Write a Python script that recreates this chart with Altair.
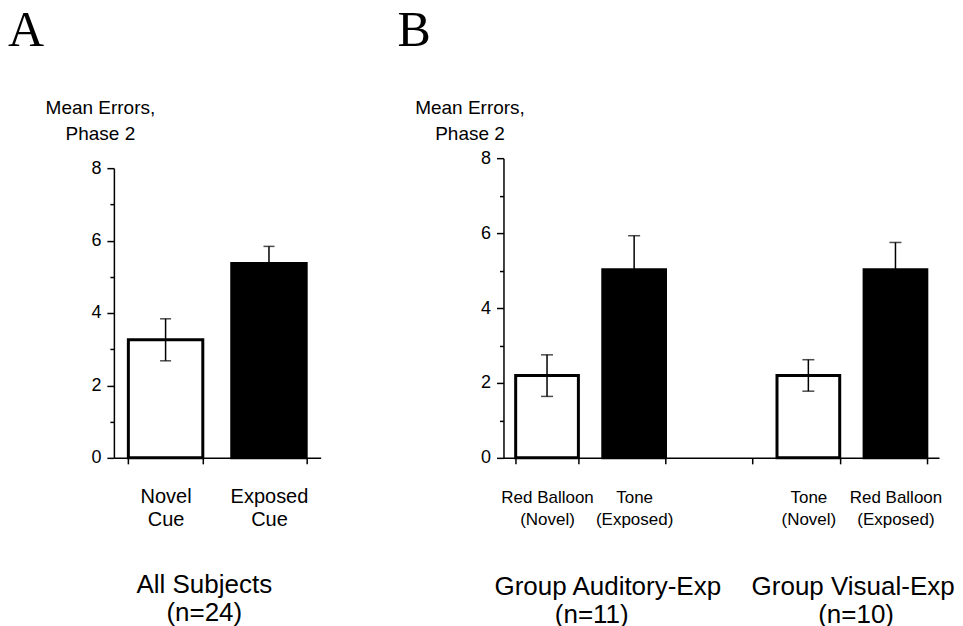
import altair as alt
import pandas as pd

FONT = "Liberation Sans"
SERIF = "Liberation Serif"

# ---------------- data ----------------
a_categories = ["Novel\nCue", "Exposed\nCue"]
a_kind = ["Novel", "Exposed"]
a_mean = [3.26, 5.37]
a_err_lo = [2.68, 4.90]
a_err_hi = [3.84, 5.84]

b_categories = ["Red Balloon\n(Novel)", "Tone\n(Exposed)", " ", "Tone\n(Novel)", "Red Balloon\n(Exposed)"]
b_bar_categories = ["Red Balloon\n(Novel)", "Tone\n(Exposed)", "Tone\n(Novel)", "Red Balloon\n(Exposed)"]
b_kind = ["Novel", "Exposed", "Novel", "Exposed"]
b_mean = [2.20, 5.02, 2.20, 5.02]
b_err_lo = [1.64, 4.11, 1.78, 4.29]
b_err_hi = [2.75, 5.93, 2.62, 5.75]

y_ticks = [0, 1, 2, 3, 4, 5, 6, 7, 8]
y_title = ["Mean Errors,", "Phase 2"]
a_group_title = ["All Subjects", "(n=24)"]
b_group_lines = ["Group Auditory-Exp", "(n=11)", "Group Visual-Exp", "(n=10)"]
b_group_anchor = ["Tone\n(Exposed)", "Tone\n(Exposed)", "Red Balloon\n(Exposed)", "Red Balloon\n(Exposed)"]


def y_axis(title_x):
    return alt.Axis(
        title=y_title, titleAngle=0, titleAlign="center", titleBaseline="top",
        titleX=title_x, titleY=-60, titleFont=FONT, titleFontSize=19,
        titleFontWeight="normal", titleLineHeight=26, titleColor="black",
        values=y_ticks, labelExpr="datum.value % 2 == 0 ? datum.label : ''",
        labelFont=FONT, labelFontSize=18, labelPadding=6, labelColor="black",
        tickSize={"condition": {"test": "datum.value % 2 == 0", "value": 7}, "value": 4},
        grid=False,
    )


def panel(cats, domain, kinds, mean, lo, hi, yrange, x_axis, yax, cap):
    df = pd.DataFrame({"cat": cats, "kind": kinds, "mean": mean, "lo": lo, "hi": hi})
    base = alt.Chart(df)
    xscale = alt.Scale(domain=domain, paddingInner=0.28, paddingOuter=0.14)
    yscale = alt.Scale(domain=[0, 8], range=yrange, nice=False)
    x = alt.X("cat:N", scale=xscale, axis=x_axis, sort=domain)
    bars = base.mark_bar(stroke="black", strokeWidth=3).encode(
        x=x,
        y=alt.Y("mean:Q", scale=yscale, axis=yax),
        color=alt.Color("kind:N", scale=alt.Scale(domain=["Novel", "Exposed"], range=["white", "black"]), legend=None),
    )
    rule = base.mark_rule(color="black", strokeWidth=1.5).encode(
        x=x, y=alt.Y("lo:Q", scale=yscale, axis=yax), y2="hi:Q")
    cap_hi = base.mark_tick(color="black", orient="horizontal", size=cap, thickness=1.5).encode(
        x=x, y=alt.Y("hi:Q", scale=yscale, axis=yax))
    cap_lo = base.mark_tick(color="black", orient="horizontal", size=cap, thickness=1.5).encode(
        x=x, y=alt.Y("lo:Q", scale=yscale, axis=yax))
    return [bars, rule, cap_hi, cap_lo], xscale


def letter(ch):
    return alt.Chart(pd.DataFrame({"t": [ch]})).mark_text(
        font=SERIF, fontSize=50, align="left", baseline="alphabetic", color="black"
    ).encode(x=alt.value(-106), y=alt.value(-112), text="t:N")


# ---------------- panel A ----------------
a_xaxis = alt.Axis(
    title=a_group_title, titleFont=FONT, titleFontSize=26, titleFontWeight="normal",
    titleX=90, titleY=114, titleBaseline="top", titleAlign="center", titleLineHeight=28,
    titleColor="black",
    labelExpr="split(datum.label, '\\n')", labelAngle=0, labelFont=FONT, labelFontSize=20,
    labelLineHeight=23, labelPadding=23, labelColor="black",
    tickBand="extent", tickSize=6, grid=False,
)
a_layers, _ = panel(a_categories, a_categories, a_kind, a_mean, a_err_lo, a_err_hi,
                    [300, 10], a_xaxis, y_axis(-14), 11)
chart_a = alt.layer(*a_layers, letter("A")).properties(width=207, height=300)

# ---------------- panel B ----------------
b_xaxis = alt.Axis(
    title=None,
    labelExpr="split(datum.label, '\\n')", labelAngle=0, labelFont=FONT, labelFontSize=17,
    labelLineHeight=22, labelPadding=26, labelColor="black",
    tickBand="extent", tickSize=6, grid=False,
)
b_layers, b_xscale = panel(b_bar_categories, b_categories, b_kind, b_mean, b_err_lo, b_err_hi,
                           [300, 0], b_xaxis, y_axis(-34), 12)

gdf = pd.DataFrame({"line": b_group_lines, "cat": b_group_anchor})
group_specs = [(0, 429, 5), (1, 457, -11), (2, 429, -11), (3, 457, -8)]
group_layers = []
for idx, ypix, dx in group_specs:
    group_layers.append(
        alt.Chart(gdf.iloc[[idx]]).mark_text(
            font=FONT, fontSize=26, align="center", baseline="middle", color="black", dx=dx
        ).encode(
            x=alt.X("cat:N", scale=b_xscale, axis=b_xaxis, sort=b_categories, bandPosition=0),
            y=alt.value(ypix),
            text="line:N",
        )
    )

chart_b = alt.layer(*b_layers, *group_layers, letter("B")).properties(width=436, height=300)

chart = alt.hconcat(chart_a, chart_b, spacing=183, bounds="flush").properties(
    padding={"left": 0, "top": -2, "right": 0, "bottom": 0}
).configure_view(stroke=None).configure_axis(
    domainColor="black", domainWidth=1.5, tickColor="black", tickWidth=1.5
)

chart.save("out.html", embed_options={"renderer": "svg", "actions": False})
